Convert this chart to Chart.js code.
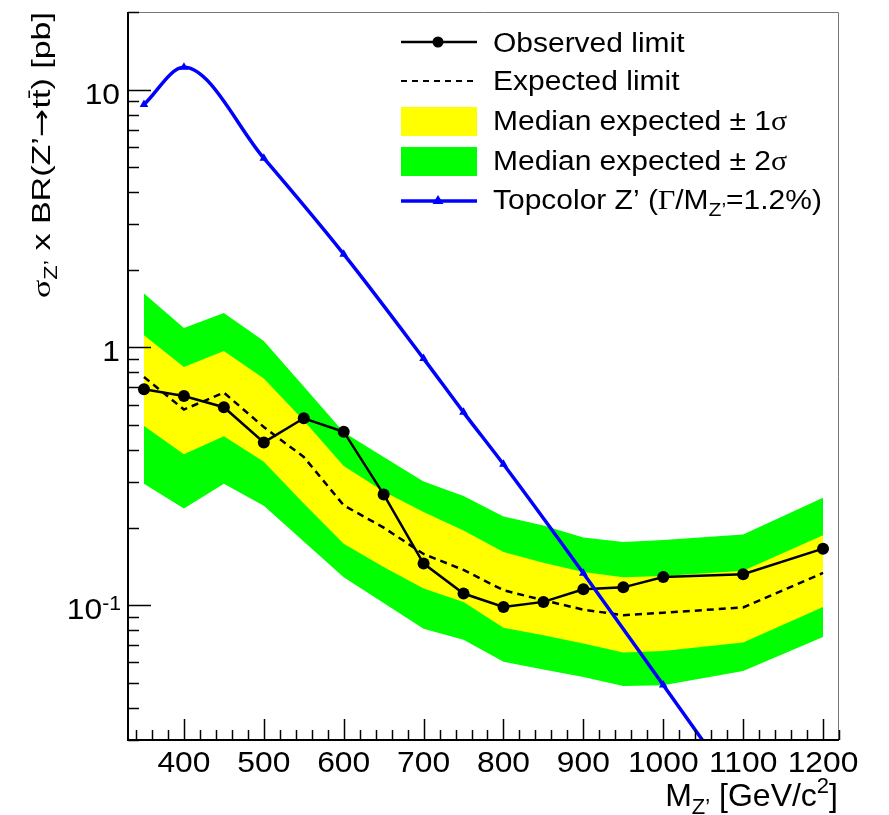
<!DOCTYPE html>
<html>
<head>
<meta charset="utf-8">
<script src="https://cdn.jsdelivr.net/npm/chart.js@4.4.1/dist/chart.umd.min.js"></script>
<style>
  html, body { margin: 0; padding: 0; background: #fff; }
  #contenedor { width: 889px; height: 815px; }
</style>
</head>
<body>
<div id="contenedor"><canvas id="limites" width="889" height="815"></canvas></div>
<script>
// Masas Z' (GeV/c2) y limites
const masas = [350, 400, 450, 500, 550, 600, 650, 700, 750, 800, 850, 900, 950, 1000, 1100, 1200];
const observado = [0.688, 0.648, 0.586, 0.428, 0.531, 0.471, 0.269, 0.145, 0.111, 0.0984, 0.103, 0.1153, 0.1173, 0.1286, 0.1318, 0.1657];
const esperado = [0.768, 0.574, 0.668, 0.491, 0.376, 0.244, 0.200, 0.158, 0.137, 0.1143, 0.1045, 0.0961, 0.0914, 0.0935, 0.098, 0.1334];
const banda1Sup = [1.114, 0.84, 0.968, 0.757, 0.52, 0.347, 0.276, 0.23, 0.195, 0.161, 0.146, 0.1345, 0.1285, 0.1298, 0.136, 0.187];
const banda1Inf = [0.496, 0.385, 0.452, 0.36, 0.248, 0.173, 0.1406, 0.116, 0.103, 0.0817, 0.0764, 0.071, 0.0655, 0.0664, 0.0716, 0.0984];
const banda2Sup = [1.617, 1.189, 1.36, 1.059, 0.706, 0.469, 0.376, 0.302, 0.265, 0.221, 0.204, 0.183, 0.176, 0.179, 0.188, 0.261];
const banda2Inf = [0.296, 0.237, 0.296, 0.243, 0.1766, 0.1285, 0.102, 0.081, 0.0735, 0.0603, 0.0563, 0.0527, 0.0486, 0.0489, 0.0556, 0.0753];

// Prediccion Topcolor Z'
const masasTopcolor = [350, 400, 500, 600, 700, 750, 800, 900, 1000, 1100];
const topcolor = [8.75, 12.2, 5.42, 2.30, 0.905, 0.56, 0.352, 0.133, 0.049, 0.018];

// Ejes
const ticksX = [400, 500, 600, 700, 800, 900, 1000, 1100, 1200];
const ticksY = [0.1, 1, 10];
const etiquetasY = ['10^-1', '1', '10'];

const fuente = '"Liberation Sans", Arial, Helvetica, sans-serif';
const fuenteSimbolo = '"Liberation Serif", "Times New Roman", serif';
const fuenteFlecha = '"DejaVu Sans", sans-serif';

function puntos(xs, ys) {
  return xs.map((x, i) => ({ x: x, y: ys[i] }));
}

function fuenteDe(p, tam) {
  const familia = p.flecha ? fuenteFlecha : (p.serif ? fuenteSimbolo : fuente);
  return Math.round(tam * (p.esc || 1)) + 'px ' + familia;
}

// texto con subindices / superindices (estira = escala horizontal)
function dibujaPartes(ctx, partes, x, y, tam, alinear, estira) {
  estira = estira || 1;
  let ancho = 0;
  partes.forEach(p => {
    ctx.font = fuenteDe(p, tam);
    p.w = ctx.measureText(p.t).width * estira;
    ancho += p.w;
  });
  let cx = x;
  if (alinear === 'right') cx = x - ancho;
  if (alinear === 'center') cx = x - ancho / 2;
  ctx.textBaseline = 'alphabetic';
  ctx.textAlign = 'left';
  partes.forEach(p => {
    ctx.font = fuenteDe(p, tam);
    ctx.save();
    ctx.translate(cx, y + (p.dy || 0) * tam);
    ctx.scale(estira, 1);
    ctx.fillText(p.t, 0, 0);
    ctx.restore();
    if (p.barra) {
      ctx.beginPath();
      ctx.lineWidth = 1.5;
      ctx.moveTo(cx + 1, y - 0.8 * tam);
      ctx.lineTo(cx + p.w - 1, y - 0.8 * tam);
      ctx.stroke();
    }
    cx += p.w;
  });
}

const marcoRoot = {
  id: 'marcoRoot',
  afterDraw(chart) {
    const ctx = chart.ctx;
    const area = chart.chartArea;
    const sx = chart.scales.x;
    const sy = chart.scales.y;
    ctx.save();
    ctx.fillStyle = '#000';
    ctx.strokeStyle = '#000';

    // marco
    ctx.lineWidth = 1;
    ctx.strokeStyle = '#777';
    ctx.beginPath();
    ctx.moveTo(area.left, area.top + 0.5);
    ctx.lineTo(area.right - 0.5, area.top + 0.5);
    ctx.lineTo(area.right - 0.5, area.bottom);
    ctx.stroke();
    ctx.strokeStyle = '#000';
    ctx.lineWidth = 2;
    ctx.beginPath();
    ctx.moveTo(area.left, area.top);
    ctx.lineTo(area.left, area.bottom);
    ctx.lineTo(area.right, area.bottom);
    ctx.stroke();

    // marcas eje x
    ctx.lineWidth = 1.5;
    for (let m = 340; m <= 1220; m += 20) {
      const px = Math.round(sx.getPixelForValue(m)) + 0.5;
      const largo = (m % 100 === 0) ? 21 : 10;
      ctx.beginPath();
      ctx.moveTo(px, area.bottom);
      ctx.lineTo(px, area.bottom - largo);
      ctx.stroke();
    }
    // marcas eje y
    for (let e = -2; e <= 1; e++) {
      for (let k = 1; k <= 9; k++) {
        const v = k * Math.pow(10, e);
        if (v < sy.min || v > sy.max) continue;
        const py = Math.round(sy.getPixelForValue(v)) + 0.5;
        const largo = (k === 1) ? 23 : 11;
        ctx.beginPath();
        ctx.moveTo(area.left, py);
        ctx.lineTo(area.left + largo, py);
        ctx.stroke();
      }
    }

    // etiquetas x
    ticksX.forEach(t => {
      dibujaPartes(ctx, [{ t: String(t) }], sx.getPixelForValue(t), 772, 30, 'center', 1.06);
    });
    // etiquetas y
    ticksY.forEach((t, i) => {
      const py = sy.getPixelForValue(t) + 14;
      const txt = etiquetasY[i];
      if (txt.indexOf('^') >= 0) {
        const p = txt.split('^');
        dibujaPartes(ctx, [{ t: p[0] }, { t: p[1], esc: 0.68, dy: -0.3 }], 121, py, 30, 'right', 1.06);
      } else {
        dibujaPartes(ctx, [{ t: txt }], 120, py, 30, 'right', 1.06);
      }
    });

    // titulo eje x
    dibujaPartes(ctx, [
      { t: 'M' }, { t: 'Z\u2019', esc: 0.7, dy: 0.25 }, { t: ' [GeV/c' },
      { t: '2', esc: 0.7, dy: -0.42 }, { t: ']' }
    ], 838, 806, 32, 'right');

    // titulo eje y (rotado)
    ctx.save();
    ctx.translate(50, 12);
    ctx.rotate(-Math.PI / 2);
    dibujaPartes(ctx, [
      { t: '\u03c3', serif: true }, { t: 'Z\u2019', esc: 0.7, dy: 0.25 },
      { t: ' x BR(Z\u2019' }, { t: '\u2192', flecha: true }, { t: 't' }, { t: 't', barra: true }, { t: ') [pb]' }
    ], 0, 0, 26, 'right', 1.31);
    ctx.restore();

    // leyenda
    const lx0 = 401, lx1 = 477, lmed = 438, tx = 493;
    const tamL = 27, estL = 1.11;
    // observado
    ctx.lineWidth = 2.5;
    ctx.setLineDash([]);
    ctx.beginPath(); ctx.moveTo(lx0, 42); ctx.lineTo(lx1, 42); ctx.stroke();
    ctx.beginPath(); ctx.arc(lmed, 42, 5.5, 0, Math.PI * 2); ctx.fill();
    dibujaPartes(ctx, [{ t: 'Observed limit' }], tx, 52, tamL, 'left', estL);
    // esperado
    ctx.setLineDash([6, 5]);
    ctx.lineWidth = 2;
    ctx.beginPath(); ctx.moveTo(lx0, 81); ctx.lineTo(lx1, 81); ctx.stroke();
    ctx.setLineDash([]);
    dibujaPartes(ctx, [{ t: 'Expected limit' }], tx, 90, tamL, 'left', estL);
    // bandas
    ctx.fillStyle = '#ffff00';
    ctx.fillRect(lx0, 107, lx1 - lx0, 29);
    ctx.fillStyle = '#00ff00';
    ctx.fillRect(lx0, 147, lx1 - lx0, 29);
    ctx.fillStyle = '#000';
    dibujaPartes(ctx, [{ t: 'Median expected \u00b1 1' }, { t: '\u03c3', serif: true }], tx, 130, tamL, 'left', estL);
    dibujaPartes(ctx, [{ t: 'Median expected \u00b1 2' }, { t: '\u03c3', serif: true }], tx, 170, tamL, 'left', estL);
    // topcolor
    ctx.strokeStyle = '#0000ff';
    ctx.fillStyle = '#0000ff';
    ctx.lineWidth = 3.5;
    ctx.beginPath(); ctx.moveTo(lx0, 201); ctx.lineTo(lx1, 201); ctx.stroke();
    ctx.beginPath();
    ctx.moveTo(lmed, 195); ctx.lineTo(lmed + 5.5, 204); ctx.lineTo(lmed - 5.5, 204);
    ctx.closePath(); ctx.fill();
    ctx.fillStyle = '#000';
    dibujaPartes(ctx, [
      { t: 'Topcolor Z\u2019 (' }, { t: '\u0393', serif: true }, { t: '/M' },
      { t: 'Z\u2019', esc: 0.7, dy: 0.25 }, { t: '=1.2%)' }
    ], tx, 209, tamL, 'left', estL);

    ctx.restore();
  }
};

const ctx = document.getElementById('limites');
new Chart(ctx, {
  type: 'line',
  data: {
    datasets: [
      { data: puntos(masas, banda2Sup), fill: '+1', backgroundColor: '#00ff00', borderWidth: 0, pointRadius: 0, order: 6 },
      { data: puntos(masas, banda2Inf), fill: false, borderWidth: 0, pointRadius: 0, order: 6 },
      { data: puntos(masas, banda1Sup), fill: '+1', backgroundColor: '#ffff00', borderWidth: 0, pointRadius: 0, order: 5 },
      { data: puntos(masas, banda1Inf), fill: false, borderWidth: 0, pointRadius: 0, order: 5 },
      { data: puntos(masas, esperado), borderColor: '#000', borderWidth: 2.5, borderDash: [7, 5], pointRadius: 0, fill: false, order: 3 },
      { data: puntos(masas, observado), borderColor: '#000', borderWidth: 2.5, pointRadius: 6, pointBackgroundColor: '#000', pointBorderWidth: 0, fill: false, order: 2 },
      { data: puntos(masasTopcolor, topcolor), borderColor: '#0000ff', borderWidth: 3.5, cubicInterpolationMode: 'monotone',
        pointStyle: 'triangle', pointRadius: 5, pointBackgroundColor: '#0000ff', pointBorderColor: '#0000ff', pointBorderWidth: 0, fill: false, order: 1 }
    ]
  },
  options: {
    responsive: false,
    animation: false,
    events: [],
    devicePixelRatio: 1,
    layout: { padding: { left: 128, right: 50, top: 12, bottom: 75 } },
    elements: { line: { tension: 0 } },
    scales: {
      x: { type: 'linear', min: 330, max: 1220, display: false },
      y: { type: 'logarithmic', min: 0.03, max: 20, display: false }
    },
    plugins: { legend: { display: false }, tooltip: { enabled: false } }
  },
  plugins: [marcoRoot]
});
</script>
</body>
</html>
